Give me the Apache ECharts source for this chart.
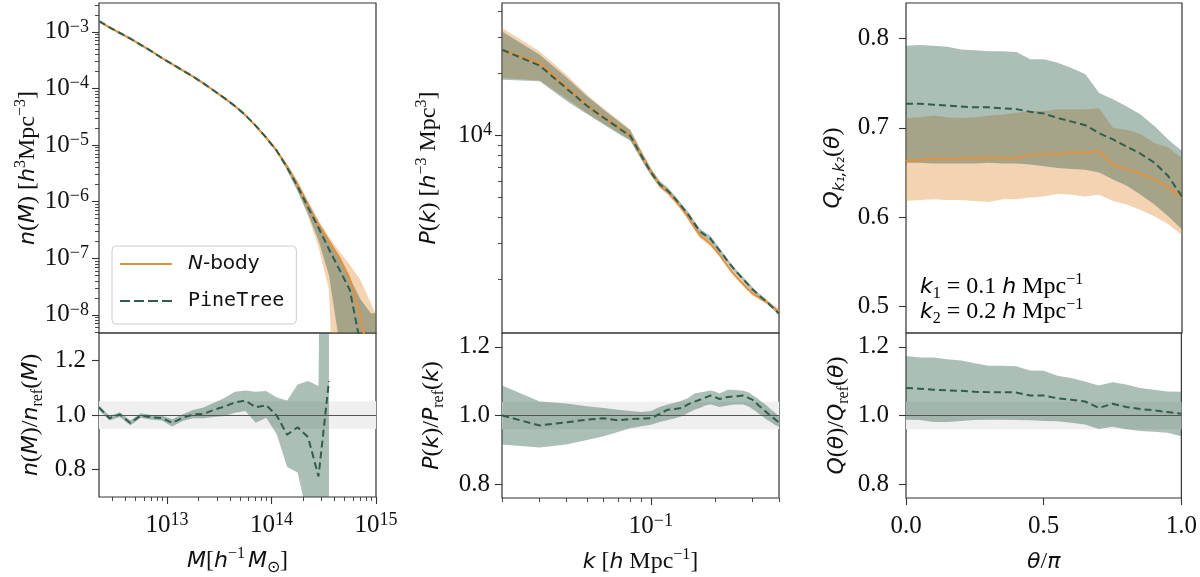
<!DOCTYPE html>
<html>
<head>
<meta charset="utf-8">
<script src="https://cdn.jsdelivr.net/npm/echarts@6.0.0/dist/echarts.min.js"></script>
<style>
  html, body { margin: 0; padding: 0; background: #fff; }
  #main { width: 1200px; height: 577px; }
</style>
</head>
<body>
<div id="main"></div>
<script>
// ---- halo mass function (log10 values) ----
var logMass = [12.35, 12.45, 12.55, 12.65, 12.75, 12.85, 12.95, 13.05, 13.15, 13.25, 13.35, 13.45, 13.55, 13.65,
  13.75, 13.85, 13.95, 14.05, 14.15, 14.25, 14.35, 14.45, 14.55, 14.65, 14.75, 14.85, 14.95, 15.05];
var hmfNbody = [-2.81, -2.92, -3.02, -3.12, -3.23, -3.34, -3.46, -3.57, -3.68, -3.79, -3.91, -4.04, -4.17, -4.31,
  -4.47, -4.66, -4.87, -5.10, -5.38, -5.70, -6.08, -6.41, -6.70, -6.99, -7.36, -8.03, -8.90, -9.80];
var hmfNbodyHi = [-2.80, -2.91, -3.01, -3.11, -3.22, -3.33, -3.45, -3.56, -3.67, -3.78, -3.90, -4.03, -4.16, -4.30,
  -4.46, -4.65, -4.85, -5.07, -5.34, -5.63, -5.98, -6.33, -6.62, -6.88, -7.12, -7.38, -7.79, -8.20];
var hmfNbodyLo = [-2.82, -2.93, -3.03, -3.13, -3.24, -3.35, -3.47, -3.58, -3.69, -3.80, -3.92, -4.05, -4.18, -4.32,
  -4.48, -4.67, -4.89, -5.13, -5.43, -5.80, -6.25, -6.80, -7.56, -12, -12, -12, -12, -12];
var hmfPine = [-2.81, -2.92, -3.02, -3.12, -3.23, -3.34, -3.46, -3.57, -3.68, -3.79, -3.91, -4.04, -4.17, -4.31,
  -4.47, -4.66, -4.87, -5.10, -5.40, -5.73, -6.10, -6.46, -6.84, -7.20, -7.56, -8.51, -9.60, -10.5];
var hmfPineHi = [-2.80, -2.91, -3.01, -3.11, -3.22, -3.33, -3.45, -3.56, -3.67, -3.78, -3.90, -4.03, -4.16, -4.30,
  -4.46, -4.65, -4.86, -5.08, -5.35, -5.66, -6.01, -6.36, -6.66, -6.98, -7.35, -7.72, -7.97, -7.97];
var hmfPineLo = [-2.82, -2.93, -3.03, -3.13, -3.24, -3.35, -3.47, -3.58, -3.69, -3.80, -3.92, -4.05, -4.18, -4.32,
  -4.48, -4.67, -4.88, -5.12, -5.45, -5.82, -6.22, -6.68, -7.30, -8.50, -12, -12, -12, -12];
// ratio uses the first 23 mass bins
var hmfRatio = [1.028, 0.988, 1.002, 0.971, 0.998, 0.992, 0.989, 0.971, 0.990, 1.002, 1.004, 1.019, 1.031, 1.046,
  1.053, 1.028, 1.036, 0.998, 0.928, 0.955, 0.919, 0.775, 1.124];
var hmfRatioLo = [1.018, 0.980, 0.993, 0.962, 0.990, 0.983, 0.980, 0.958, 0.978, 0.988, 0.988, 0.993, 0.996, 1.008,
  1.015, 0.972, 0.990, 0.930, 0.810, 0.790, 0.620, 0.300, -3];
var hmfRatioHi = [1.035, 0.996, 1.010, 0.980, 1.006, 1.000, 0.998, 0.984, 1.003, 1.018, 1.027, 1.045, 1.062, 1.085,
  1.090, 1.085, 1.088, 1.064, 1.053, 1.112, 1.124, 1.106, 5];

// ---- power spectrum, k in h/Mpc, P as log10 ----
var kBins = [0.02, 0.03, 0.04, 0.05, 0.06, 0.07, 0.08, 0.09, 0.10, 0.11, 0.12, 0.13, 0.14, 0.15, 0.16, 0.17, 0.18,
  0.19, 0.20, 0.21, 0.22, 0.23, 0.24, 0.25, 0.26, 0.27, 0.28, 0.29, 0.30, 0.31, 0.32, 0.33, 0.34, 0.35, 0.36, 0.37,
  0.38, 0.39, 0.40];
var pkNbody = [4.417, 4.353, 4.239, 4.150, 4.091, 4.045, 4.002, 3.908, 3.825, 3.761, 3.726, 3.686, 3.645, 3.602,
  3.556, 3.516, 3.496, 3.477, 3.449, 3.423, 3.394, 3.366, 3.341, 3.319, 3.300, 3.282, 3.265, 3.250, 3.235, 3.225,
  3.216, 3.207, 3.199, 3.192, 3.183, 3.173, 3.164, 3.155, 3.146];
var pkNbodyHi = [4.523, 4.409, 4.297, 4.200, 4.132, 4.078, 4.030, 3.930, 3.843, 3.777, 3.741, 3.699, 3.658, 3.615,
  3.569, 3.529, 3.509, 3.490, 3.462, 3.434, 3.405, 3.377, 3.352, 3.330, 3.311, 3.293, 3.276, 3.261, 3.246, 3.234,
  3.225, 3.216, 3.208, 3.201, 3.192, 3.182, 3.173, 3.164, 3.155];
var pkNbodyLo = [4.280, 4.268, 4.180, 4.110, 4.058, 4.017, 3.979, 3.888, 3.809, 3.746, 3.712, 3.673, 3.632, 3.589,
  3.543, 3.503, 3.483, 3.464, 3.436, 3.412, 3.383, 3.355, 3.330, 3.308, 3.289, 3.271, 3.254, 3.239, 3.224, 3.216,
  3.207, 3.198, 3.190, 3.183, 3.174, 3.164, 3.155, 3.146, 3.137];
var pkPine = [4.417, 4.340, 4.230, 4.145, 4.087, 4.039, 3.998, 3.904, 3.822, 3.764, 3.733, 3.694, 3.654, 3.616,
  3.574, 3.535, 3.517, 3.501, 3.471, 3.443, 3.416, 3.389, 3.365, 3.343, 3.324, 3.306, 3.288, 3.271, 3.254, 3.241,
  3.229, 3.216, 3.205, 3.194, 3.182, 3.170, 3.159, 3.148, 3.137];
var pkPineHi = [4.506, 4.393, 4.283, 4.193, 4.126, 4.072, 4.026, 3.926, 3.840, 3.780, 3.748, 3.707, 3.667, 3.629,
  3.587, 3.548, 3.530, 3.514, 3.484, 3.454, 3.427, 3.400, 3.376, 3.354, 3.335, 3.317, 3.299, 3.282, 3.265, 3.250,
  3.238, 3.225, 3.214, 3.203, 3.191, 3.179, 3.168, 3.157, 3.146];
var pkPineLo = [4.272, 4.264, 4.170, 4.105, 4.054, 4.011, 3.975, 3.884, 3.806, 3.749, 3.719, 3.681, 3.641, 3.603,
  3.561, 3.522, 3.504, 3.488, 3.458, 3.432, 3.405, 3.378, 3.354, 3.332, 3.313, 3.295, 3.277, 3.260, 3.243, 3.232,
  3.220, 3.207, 3.196, 3.185, 3.173, 3.161, 3.150, 3.139, 3.128];
var pkRatio = [1.000, 0.971, 0.980, 0.988, 0.992, 0.986, 0.990, 0.991, 0.992, 1.005, 1.017, 1.019, 1.022, 1.033,
  1.040, 1.046, 1.052, 1.058, 1.054, 1.048, 1.051, 1.054, 1.055, 1.056, 1.057, 1.058, 1.055, 1.050, 1.046, 1.039,
  1.030, 1.023, 1.015, 1.009, 1.002, 0.996, 0.991, 0.985, 0.980];
var pkRatioHi = [1.087, 1.041, 1.035, 1.027, 1.022, 1.017, 1.013, 1.010, 1.013, 1.025, 1.032, 1.037, 1.044, 1.051,
  1.064, 1.067, 1.070, 1.073, 1.070, 1.064, 1.070, 1.075, 1.075, 1.074, 1.073, 1.073, 1.070, 1.066, 1.060, 1.054,
  1.048, 1.041, 1.035, 1.029, 1.022, 1.015, 1.010, 1.004, 0.998];
var pkRatioLo = [0.916, 0.907, 0.916, 0.929, 0.940, 0.952, 0.963, 0.969, 0.973, 0.981, 0.987, 0.992, 0.998, 1.008,
  1.017, 1.022, 1.029, 1.032, 1.029, 1.025, 1.027, 1.029, 1.031, 1.032, 1.032, 1.032, 1.029, 1.025, 1.019, 1.013,
  1.006, 1.000, 0.994, 0.988, 0.984, 0.979, 0.974, 0.970, 0.967];

// ---- reduced bispectrum vs theta/pi ----
var thetaBins = [0, 0.05, 0.10, 0.15, 0.20, 0.25, 0.30, 0.35, 0.40, 0.45, 0.50, 0.55, 0.60, 0.65, 0.70, 0.75, 0.80,
  0.85, 0.90, 0.95, 1.00];
var qNbody = [0.663, 0.664, 0.666, 0.665, 0.666, 0.666, 0.667, 0.666, 0.666, 0.670, 0.670, 0.671, 0.673, 0.672,
  0.674, 0.658, 0.654, 0.649, 0.642, 0.633, 0.623];
var qNbodyHi = [0.711, 0.712, 0.714, 0.712, 0.711, 0.712, 0.714, 0.715, 0.717, 0.719, 0.719, 0.721, 0.721, 0.721,
  0.722, 0.700, 0.698, 0.693, 0.683, 0.678, 0.666];
var qNbodyLo = [0.618, 0.619, 0.620, 0.619, 0.619, 0.618, 0.617, 0.620, 0.620, 0.622, 0.623, 0.626, 0.625, 0.623,
  0.625, 0.618, 0.614, 0.608, 0.601, 0.592, 0.580];
var qPine = [0.727, 0.727, 0.726, 0.725, 0.724, 0.723, 0.723, 0.722, 0.721, 0.718, 0.716, 0.711, 0.707, 0.703,
  0.694, 0.687, 0.679, 0.671, 0.661, 0.646, 0.623];
var qPineHi = [0.792, 0.793, 0.792, 0.791, 0.788, 0.787, 0.786, 0.786, 0.785, 0.777, 0.777, 0.773, 0.767, 0.760,
  0.739, 0.732, 0.724, 0.715, 0.702, 0.687, 0.674];
var qPineLo = [0.661, 0.661, 0.660, 0.660, 0.660, 0.660, 0.661, 0.660, 0.660, 0.659, 0.657, 0.655, 0.654, 0.653,
  0.650, 0.642, 0.635, 0.625, 0.614, 0.601, 0.586];
var qRatio = [1.080, 1.078, 1.075, 1.073, 1.072, 1.069, 1.068, 1.068, 1.067, 1.058, 1.058, 1.050, 1.046, 1.041,
  1.022, 1.034, 1.025, 1.019, 1.015, 1.010, 1.005];
var qRatioHi = [1.173, 1.169, 1.169, 1.164, 1.160, 1.152, 1.145, 1.145, 1.143, 1.131, 1.130, 1.116, 1.109, 1.099,
  1.087, 1.097, 1.090, 1.080, 1.075, 1.070, 1.069];
var qRatioLo = [0.988, 0.987, 0.981, 0.981, 0.984, 0.987, 0.988, 0.988, 0.987, 0.986, 0.984, 0.983, 0.979, 0.974,
  0.961, 0.967, 0.960, 0.955, 0.953, 0.950, 0.940];

// tick labels
var massTicks = [13, 14, 15];
var hmfTicks = [-8, -7, -6, -5, -4, -3];
var kTicks = [-1];
var pkTicks = [4];
var ratioTicks = [0.8, 1.0, 1.2];
var thetaTicks = [0, 0.5, 1];
var qTicks = [0.5, 0.6, 0.7, 0.8];

var SERIF = 'Liberation Serif';
var SANS = 'DejaVu Sans';
var INK = '#111111';
var FRAME = '#333333';
var ORANGE = '#e3913f';
var GREEN = '#2f5e4c';
var ORANGE_FILL = 'rgba(227,145,63,0.40)';
var GREEN_FILL = 'rgba(47,94,76,0.40)';

var myChart = echarts.init(document.getElementById('main'));

var tickRich = {
  b: { fontFamily: SERIF, fontSize: 25, lineHeight: 28, color: INK },
  s: { fontFamily: SERIF, fontSize: 18, lineHeight: 15, verticalAlign: 'top', color: INK }
};
var mathRich = {
  it: { fontFamily: SANS, fontStyle: 'italic', fontSize: 22, lineHeight: 30, color: INK },
  rm: { fontFamily: SERIF, fontSize: 24, lineHeight: 30, color: INK },
  sup: { fontFamily: SERIF, fontSize: 16, lineHeight: 17, verticalAlign: 'top', color: INK },
  sub: { fontFamily: SERIF, fontSize: 16, lineHeight: 17, verticalAlign: 'bottom', color: INK },
  subit: { fontFamily: SANS, fontStyle: 'italic', fontSize: 15, lineHeight: 17, verticalAlign: 'bottom', color: INK }
};

//log10 positions of 2..9 x 10^n inside [lo, hi]
function logMinorTicks(lo, hi) {
  var out = [];
  for (var n = Math.floor(lo) - 1; n <= Math.ceil(hi); n++) {
    for (var m = 2; m <= 9; m++) {
      var v = n + Math.log10(m);
      if (v >= lo - 1e-6 && v <= hi + 1e-6) out.push(v);
    }
  }
  return out;
}
function powLabel(v) {
  var e = Math.round(v);
  return '{b|10}{s|' + (e < 0 ? '\u2212' + (-e) : e) + '}';
}
function oneDecimal(v) {
  return '{b|' + v.toFixed(1) + '}';
}

function hiddenAxis(grid, min, max, pos) {
  return {
    type: 'value', gridIndex: grid, min: min, max: max, position: pos,
    splitLine: { show: false }, axisLine: { show: false },
    axisTick: { show: false }, axisLabel: { show: false }
  };
}
function tickAxis(grid, min, max, pos, ticks, fmt, margin) {
  var a = hiddenAxis(grid, min, max, pos);
  a.axisTick = { show: true, customValues: ticks, length: 7, lineStyle: { color: FRAME, width: 1.1 } };
  a.axisLabel = { show: true, customValues: ticks, formatter: fmt, margin: margin, color: INK,
    fontFamily: SERIF, fontSize: 25, rich: tickRich };
  return a;
}
function minorAxis(grid, min, max, pos) {
  var a = hiddenAxis(grid, min, max, pos);
  a.axisTick = { show: true, customValues: logMinorTicks(min, max), length: 4, lineStyle: { color: FRAME, width: 0.9 } };
  return a;
}
function named(axis, name, gap) {
  axis.name = name;
  axis.nameLocation = 'middle';
  axis.nameGap = gap;
  axis.nameTextStyle = { rich: mathRich };
  if (axis.position === 'left') axis.nameRotate = 90;
  return axis;
}

function pairs(xs, ys) {
  return ys.map(function (y, i) { return [xs[i], y]; });
}
function lineSeries(name, xi, yi, xs, ys, color, dashed, extra) {
  var s = {
    name: name, type: 'line', xAxisIndex: xi, yAxisIndex: yi, data: pairs(xs, ys),
    symbol: 'none', showSymbol: false, clip: true, silent: true, z: 5,
    lineStyle: { color: color, width: 2, type: dashed ? [7, 4] : 'solid' },
    itemStyle: { color: color }
  };
  if (extra) for (var k in extra) s[k] = extra[k];
  return s;
}
//filled band between lo and hi, drawn once as one polygon
function bandSeries(xi, yi, xs, lo, hi, fill) {
  return {
    type: 'custom', xAxisIndex: xi, yAxisIndex: yi, clip: true, silent: true, z: 3,
    data: pairs(xs, lo),
    renderItem: function (params, api) {
      if (params.dataIndex !== 0) return null;
      var pts = [];
      for (var i = 0; i < xs.length; i++) pts.push(api.coord([xs[i], hi[i]]));
      for (var j = xs.length - 1; j >= 0; j--) pts.push(api.coord([xs[j], lo[j]]));
      return { type: 'polygon', shape: { points: pts }, style: { fill: fill } };
    }
  };
}
function refMarks(lo, hi) {
  return {
    markArea: { silent: true, z: 1, itemStyle: { color: '#efefef' }, data: [[{ yAxis: lo }, { yAxis: hi }]] },
    markLine: { silent: true, z: 4, symbol: ['none', 'none'], label: { show: false },
      lineStyle: { color: '#555555', width: 1, type: 'solid' }, data: [{ yAxis: 1 }] }
  };
}

var logK = kBins.map(function (k) { return Math.log10(k); });
var ratioMass = logMass.slice(0, hmfRatio.length);

var gridBox = [
  { left: 99, top: 3, width: 277, height: 330 },
  { left: 99, top: 333, width: 277, height: 165 },
  { left: 502, top: 3, width: 277, height: 330 },
  { left: 502, top: 333, width: 277, height: 165 },
  { left: 906, top: 3, width: 276, height: 330 },
  { left: 906, top: 333, width: 276, height: 165 }
].map(function (g) {
  g.show = true; g.borderColor = FRAME; g.borderWidth = 1.2; g.backgroundColor = 'transparent';
  return g;
});

var xAxes = [
  hiddenAxis(0, 12.35, 15, 'bottom'),
  named(tickAxis(1, 12.35, 15, 'bottom', massTicks, powLabel, 14),
    '{it|M}{rm|[}{it|h}{sup|\u22121} {it|M}{sub|\u2299}{rm|]}', 49),
  minorAxis(1, 12.35, 15, 'bottom'),
  hiddenAxis(2, -1.7, -0.3979, 'bottom'),
  named(tickAxis(3, -1.7, -0.3979, 'bottom', kTicks, powLabel, 14),
    '{it|k}{rm| [}{it|h}{rm| Mpc}{sup|\u22121}{rm|]}', 49),
  minorAxis(3, -1.7, -0.3979, 'bottom'),
  hiddenAxis(4, 0, 1, 'bottom'),
  named(tickAxis(5, 0, 1, 'bottom', thetaTicks, oneDecimal, 14), '{it|\u03b8}{rm|/}{it|\u03c0}', 49)
];
var yAxes = [
  named(tickAxis(0, -8.32, -2.49, 'left', hmfTicks, powLabel, 10),
    '{it|n}{rm|(}{it|M}{rm|) [}{it|h}{sup|3}{rm|Mpc}{sup|\u22123}{rm|]}', 56),
  minorAxis(0, -8.32, -2.49, 'left'),
  named(tickAxis(1, 0.70, 1.30, 'left', ratioTicks, oneDecimal, 13),
    '{it|n}{rm|(}{it|M}{rm|)/}{it|n}{sub|ref}{rm|(}{it|M}{rm|)}', 53),
  named(tickAxis(2, 3.042, 4.644, 'left', pkTicks, powLabel, 10),
    '{it|P}{rm|(}{it|k}{rm|) [}{it|h}{sup|\u22123}{rm| Mpc}{sup|3}{rm|]}', 58),
  minorAxis(2, 3.042, 4.644, 'left'),
  named(tickAxis(3, 0.76, 1.24, 'left', ratioTicks, oneDecimal, 12),
    '{it|P}{rm|(}{it|k}{rm|)/}{it|P}{sub|ref}{rm|(}{it|k}{rm|)}', 55),
  named(tickAxis(4, 0.47, 0.84, 'left', qTicks, oneDecimal, 17),
    '{it|Q}{subit|k\u2081,k\u2082}{rm|(}{it|\u03b8}{rm|)}', 58),
  named(tickAxis(5, 0.76, 1.24, 'left', ratioTicks, oneDecimal, 17),
    '{it|Q}{rm|(}{it|\u03b8}{rm|)/}{it|Q}{sub|ref}{rm|(}{it|\u03b8}{rm|)}', 54)
];

var series = [
  // mass function
  bandSeries(0, 0, logMass, hmfNbodyLo, hmfNbodyHi, ORANGE_FILL),
  bandSeries(0, 0, logMass, hmfPineLo, hmfPineHi, GREEN_FILL),
  lineSeries('N-body', 0, 0, logMass, hmfNbody, ORANGE, false),
  lineSeries('PineTree', 0, 0, logMass, hmfPine, GREEN, true, { z: 6 }),
  bandSeries(1, 2, ratioMass, hmfRatioLo, hmfRatioHi, GREEN_FILL),
  lineSeries('PineTree', 1, 2, ratioMass, hmfRatio, GREEN, true, refMarks(0.95, 1.05)),
  // power spectrum
  bandSeries(3, 3, logK, pkNbodyLo, pkNbodyHi, ORANGE_FILL),
  bandSeries(3, 3, logK, pkPineLo, pkPineHi, GREEN_FILL),
  lineSeries('N-body', 3, 3, logK, pkNbody, ORANGE, false),
  lineSeries('PineTree', 3, 3, logK, pkPine, GREEN, true, { z: 6 }),
  bandSeries(4, 5, logK, pkRatioLo, pkRatioHi, GREEN_FILL),
  lineSeries('PineTree', 4, 5, logK, pkRatio, GREEN, true, refMarks(0.96, 1.04)),
  // bispectrum
  bandSeries(6, 6, thetaBins, qNbodyLo, qNbodyHi, ORANGE_FILL),
  bandSeries(6, 6, thetaBins, qPineLo, qPineHi, GREEN_FILL),
  lineSeries('N-body', 6, 6, thetaBins, qNbody, ORANGE, false),
  lineSeries('PineTree', 6, 6, thetaBins, qPine, GREEN, true, { z: 6 }),
  bandSeries(7, 7, thetaBins, qRatioLo, qRatioHi, GREEN_FILL),
  lineSeries('PineTree', 7, 7, thetaBins, qRatio, GREEN, true, refMarks(0.96, 1.04))
];

var option = {
  animation: false,
  textStyle: { fontFamily: SERIF },
  grid: gridBox,
  xAxis: xAxes,
  yAxis: yAxes,
  legend: {
    left: 112, top: 246, orient: 'vertical', selectedMode: false, z: 10,
    itemWidth: 52, itemHeight: 3, itemGap: 11, padding: [5, 12, 10, 8],
    backgroundColor: 'rgba(255,255,255,0.85)', borderColor: '#cccccc', borderWidth: 1, borderRadius: 4,
    data: [
      { name: 'N-body', icon: 'path://M0,0h52v2h-52z', itemStyle: { color: ORANGE, borderWidth: 0 } },
      { name: 'PineTree', icon: 'path://M0,0h10v2h-10zM14,0h10v2h-10zM28,0h10v2h-10zM42,0h10v2h-10z',
        itemStyle: { color: GREEN, borderWidth: 0 } }
    ],
    formatter: function (name) {
      return name === 'N-body' ? '{it|N}{rm|-body}' : '{mono|PineTree}';
    },
    textStyle: {
      color: INK, fontFamily: SANS, fontSize: 20, lineHeight: 26, padding: [0, 0, 0, 11],
      rich: {
        it: { fontFamily: SANS, fontStyle: 'italic', fontSize: 20, lineHeight: 26, color: INK },
        rm: { fontFamily: SANS, fontSize: 20, lineHeight: 26, color: INK },
        mono: { fontFamily: 'DejaVu Sans Mono', fontSize: 20, lineHeight: 26, color: INK }
      }
    }
  },
  graphic: [
    { type: 'text', left: 920, top: 272, z: 10,
      style: { text: '{it|k}{sub|1}{rm| = 0.1 }{it|h}{rm| Mpc}{sup|\u22121}', rich: mathRich } },
    { type: 'text', left: 920, top: 297, z: 10,
      style: { text: '{it|k}{sub|2}{rm| = 0.2 }{it|h}{rm| Mpc}{sup|\u22121}', rich: mathRich } }
  ],
  series: series
};

myChart.setOption(option);
</script>
</body>
</html>
